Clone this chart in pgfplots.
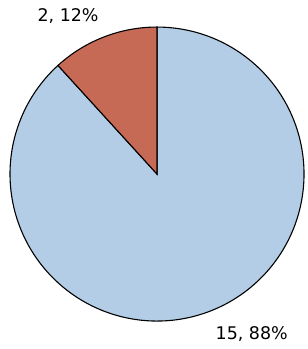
\documentclass[border=0pt]{standalone}
\usepackage{pgfplots}
\pgfplotsset{compat=1.18}
\usepackage{fontspec}
\setmainfont{DejaVu Sans}
\definecolor{sliceblue}{RGB}{178,205,229}
\definecolor{slicered}{RGB}{198,106,86}
\def\va{2}
\def\vb{15}
\begin{document}
\begin{tikzpicture}
\begin{axis}[
  scale only axis,
  width=308bp, height=349bp,
  xmin=-1.068, xmax=1.027, ymin=-1.190, ymax=1.184,
  hide axis, clip=false,
]
\addplot[draw=none, forget plot] coordinates {(-1.068,-1.19) (1.027,1.184)};
% large slice: 15
\addplot[fill=sliceblue, draw=black, line width=1.1pt, samples=200,
  domain={90+360*\va/(\va+\vb)}:450, variable=\t]
  ({cos(t)},{sin(t)}) -- (0,0) -- cycle;
% small slice: 2
\addplot[fill=slicered, draw=black, line width=1.1pt, samples=60,
  domain=90:{90+360*\va/(\va+\vb)}, variable=\t]
  ({cos(t)},{sin(t)}) -- (0,0) -- cycle;
\node[font=\fontsize{17.5}{21}\selectfont] at (axis cs:-0.605,1.072) {2, 12\%};
\node[font=\fontsize{17.5}{21}\selectfont] at (axis cs:0.644,-1.085) {15, 88\%};
\end{axis}
\end{tikzpicture}
\end{document}
